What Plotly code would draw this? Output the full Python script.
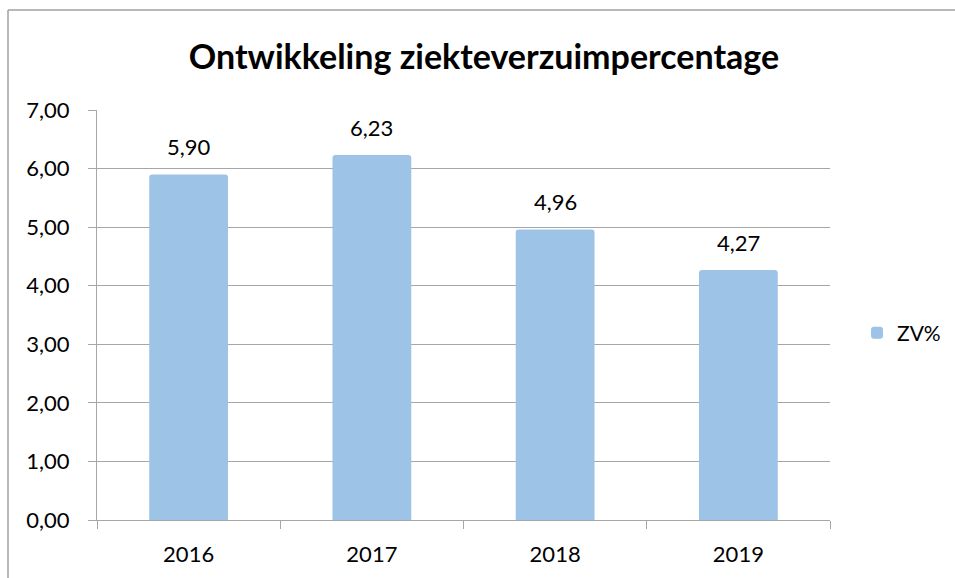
import plotly.graph_objects as go

years = ["2016", "2017", "2018", "2019"]
zv_values = [5.90, 6.23, 4.96, 4.27]
value_labels = ["5,90", "6,23", "4,96", "4,27"]
series_name = "ZV%"
title_text = "Ontwikkeling ziekteverzuimpercentage"

BAR = "#9DC3E6"
GRID = "#A6A6A6"
FONT = "Lato"
FS = 22

fig = go.Figure()
fig.add_trace(go.Bar(
    x=years, y=zv_values, name=series_name,
    marker=dict(color=BAR, line=dict(width=0), cornerradius=3),
    width=0.43,
    cliponaxis=False,
))

# data labels: category index positions on the category axis
for i, (v, lab) in enumerate(zip(zv_values, value_labels)):
    fig.add_annotation(x=i, y=v, text=lab, showarrow=False, xref="x", yref="y",
                       yanchor="bottom", yshift=12,
                       font=dict(family=FONT, size=FS, color="#000000"))

L, R, T, B = 97, 125, 110, 58
pw = 955 - L - R
ph = 578 - T - B

fig.update_layout(
    width=955, height=578,
    margin=dict(l=L, r=R, t=T, b=B, autoexpand=False),
    paper_bgcolor="white", plot_bgcolor="white",
    separators=",.",
    title=dict(text="<b>" + title_text + "</b>", x=484 / 955, xanchor="center",
               y=1 - 57 / 578, yanchor="middle",
               font=dict(family=FONT, size=34, color="#000000")),
    font=dict(family=FONT, size=FS, color="#000000"),
    showlegend=True,
    legend=dict(x=(857 - L) / pw, xanchor="left", y=(520 - 333) / ph, yanchor="middle",
                font=dict(family=FONT, size=FS - 1, color="#000000"),
                itemwidth=30, bgcolor="rgba(0,0,0,0)"),
    xaxis=dict(type="category", categoryorder="array", categoryarray=years,
               range=[-0.5, len(years) - 0.5],
               showline=True, linecolor=GRID, linewidth=1,
               ticks="outside", tickson="boundaries", ticklen=8, tickcolor=GRID,
               ticklabelstandoff=15, tickangle=0,
               showgrid=False, tickfont=dict(family=FONT, size=FS)),
    yaxis=dict(range=[0, 7], dtick=1, tickformat=".2f", showline=True, linecolor=GRID,
               linewidth=1, ticks="outside", ticklen=8, tickcolor=GRID,
               ticklabelstandoff=14,
               showgrid=True, gridcolor=GRID, gridwidth=1, zeroline=False,
               tickfont=dict(family=FONT, size=FS)),
    shapes=[
        dict(type="line", xref="paper", yref="paper",
             x0=(8 - L) / pw, x1=1.3, y0=(578 - B - 10) / ph, y1=(578 - B - 10) / ph,
             line=dict(color="#A0A0A0", width=1.5)),
        dict(type="line", xref="paper", yref="paper",
             x0=(8 - L) / pw, x1=(8 - L) / pw, y0=(578 - B - 10) / ph, y1=-0.3,
             line=dict(color="#A0A0A0", width=1.5)),
    ],
)

fig.write_html("out.html", config={"displayModeBar": False},
               post_script="document.body.style.margin='0px';document.body.style.overflow='hidden';")
